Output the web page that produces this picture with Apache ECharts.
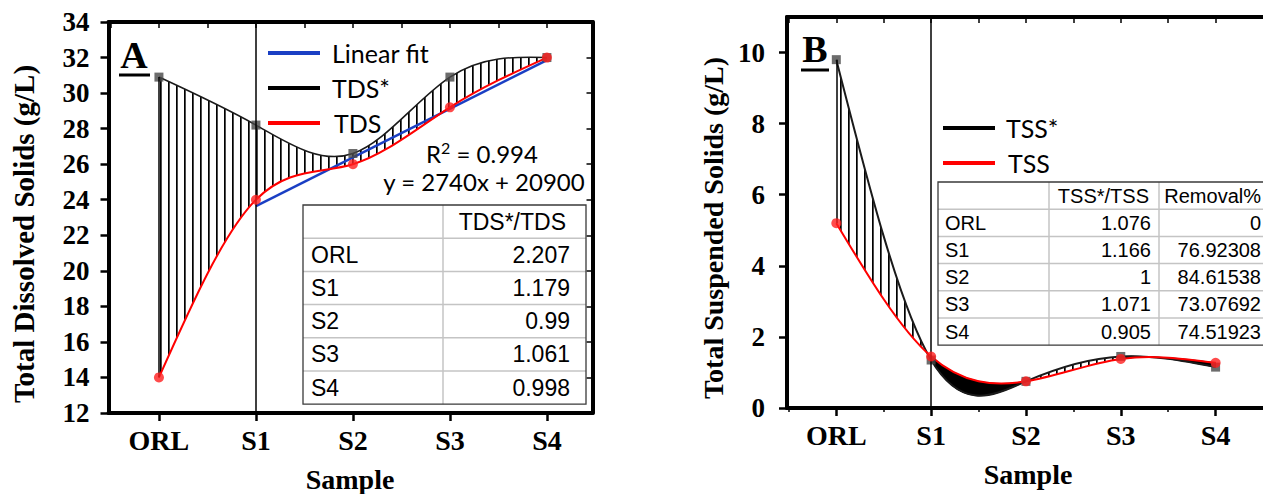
<!DOCTYPE html>
<html>
<head>
<meta charset="utf-8">
<title>TDS and TSS by sample</title>
<script src="https://cdn.jsdelivr.net/npm/echarts@6/dist/echarts.min.js"></script>
<style>
  html, body { margin: 0; padding: 0; background: #fff; }
  #chart { width: 1263px; height: 494px; }
</style>
</head>
<body>
<div id="chart"></div>
<script>
// Sampling points along the x axis (ORL = 0 ... S4 = 4)
const samples = ['ORL', 'S1', 'S2', 'S3', 'S4'];

// Panel A: total dissolved solids (g/L)
const tdsStar = [30.9, 28.2, 26.6, 30.9, 32.0];
const tds = [14.0, 24.0, 26.0, 29.2, 32.0];
// Linear fit y = 2740x + 20900 (mg/L), drawn from S1 to S4
const fitX = [1, 4];
const fitY = [23.64, 31.86];
const tdsTicks = [12, 14, 16, 18, 20, 22, 24, 26, 28, 30, 32, 34];
const tdsRatio = ['2.207', '1.179', '0.99', '1.061', '0.998'];

// Panel B: total suspended solids (g/L)
const tssStar = [9.8, 1.35, 0.75, 1.45, 1.15];
const tss = [5.2, 1.45, 0.75, 1.38, 1.27];
const tssTicks = [0, 2, 4, 6, 8, 10];
const tssRatio = ['1.076', '1.166', '1', '1.071', '0.905'];
const tssRemoval = ['0', '76.92308', '84.61538', '73.07692', '74.51923'];

const SERIF = "'Liberation Serif', 'Times New Roman', serif";
const SANS = "'Liberation Sans', Arial, sans-serif";
const LEGEND_FONT = "Lato, 'Liberation Sans', sans-serif";

const pts = ys => ys.map((y, i) => [i, y]);
const sampleIdx = samples.map((_, i) => i);
const halfTicks = [-0.5, 0, 0.5, 1, 1.5, 2, 2.5, 3, 3.5, 4];
const midTicks = [-0.5, 0.5, 1.5, 2.5, 3.5];

// Natural cubic spline through equally spaced samples, returned as one
// cubic Bezier segment (in data units) per interval.
function splineSegments(ys) {
  const n = ys.length;
  const M = new Array(n).fill(0);
  const cp = [], dp = [];
  for (let i = 1; i < n - 1; i++) {
    const rhs = 6 * (ys[i + 1] - 2 * ys[i] + ys[i - 1]);
    const k = i - 1;
    if (k === 0) { cp[k] = 1 / 4; dp[k] = rhs / 4; }
    else {
      const den = 4 - cp[k - 1];
      cp[k] = 1 / den;
      dp[k] = (rhs - dp[k - 1]) / den;
    }
  }
  for (let k = n - 3; k >= 0; k--) {
    M[k + 1] = dp[k] - (k < n - 3 ? cp[k] * M[k + 2] : 0);
  }
  const segs = [];
  for (let i = 0; i < n - 1; i++) {
    const dy = ys[i + 1] - ys[i];
    const d0 = dy - (2 * M[i] + M[i + 1]) / 6;
    const d1 = dy + (M[i] + 2 * M[i + 1]) / 6;
    segs.push({ y0: ys[i], c0: ys[i] + d0 / 3, c1: ys[i + 1] - d1 / 3, y1: ys[i + 1] });
  }
  return segs;
}
const segMid = s => (s.y0 + 3 * s.c0 + 3 * s.c1 + s.y1) / 8;

// Vertical hatching between the paired curves
function hatchCanvas() {
  const c = document.createElement('canvas');
  c.width = 8; c.height = 8;
  const g = c.getContext('2d');
  g.fillStyle = '#fff'; g.fillRect(0, 0, 8, 8);
  g.fillStyle = '#000'; g.fillRect(0, 0, 1, 8);
  g.fillStyle = 'rgba(0,0,0,0.7)'; g.fillRect(1, 0, 1, 8);
  return c;
}
const hatch = { image: hatchCanvas(), repeat: 'repeat' };

const chart = echarts.init(document.getElementById('chart'), null, { renderer: 'svg' });

function bottomAxis(gridIndex, min, max) {
  return {
    type: 'value', gridIndex, position: 'bottom', min, max, z: 10,
    axisLine: { show: true, onZero: false, lineStyle: { color: '#000', width: 4 } },
    axisTick: { show: true, customValues: sampleIdx, length: 8, inside: false, lineStyle: { color: '#000', width: 2.5 } },
    axisLabel: {
      show: true, customValues: sampleIdx, margin: 13,
      formatter: v => samples[Math.round(v)] || '',
      color: '#000', fontFamily: SERIF, fontWeight: 'bold', fontSize: 28
    },
    splitLine: { show: false }
  };
}
function minorBottomAxis(gridIndex, min, max) {
  return {
    type: 'value', gridIndex, position: 'bottom', min, max, z: 10,
    axisLine: { show: false, onZero: false },
    axisTick: { show: true, customValues: midTicks, length: 4, lineStyle: { color: '#000', width: 1.5 } },
    axisLabel: { show: false },
    splitLine: { show: false }
  };
}
function topAxis(gridIndex, min, max) {
  return {
    type: 'value', gridIndex, position: 'top', min, max, z: 10,
    axisLine: { show: true, onZero: false, lineStyle: { color: '#000', width: 4 } },
    axisTick: { show: true, customValues: halfTicks, inside: true, length: 6, lineStyle: { color: '#000', width: 1.5 } },
    axisLabel: { show: false },
    splitLine: { show: false }
  };
}
function leftAxis(gridIndex, min, max, ticks, margin) {
  return {
    type: 'value', gridIndex, position: 'left', min, max, z: 10,
    axisLine: { show: true, onZero: false, lineStyle: { color: '#000', width: 4 } },
    axisTick: { show: true, customValues: ticks, length: 8, lineStyle: { color: '#000', width: 2.5 } },
    axisLabel: {
      show: true, customValues: ticks, margin,
      color: '#000', fontFamily: SERIF, fontWeight: 'bold', fontSize: 27
    },
    splitLine: { show: false }
  };
}
function rightAxis(gridIndex, min, max, ticks) {
  return {
    type: 'value', gridIndex, position: 'right', min, max, z: 10,
    axisLine: { show: true, onZero: false, lineStyle: { color: '#000', width: 4 } },
    axisTick: { show: true, customValues: ticks, inside: true, length: 6, lineStyle: { color: '#000', width: 1.5 } },
    axisLabel: { show: false },
    splitLine: { show: false }
  };
}

// Region between the starred curve and the plain curve, one piece per interval:
// hatched where the starred curve is above, solid where it dips below.
function betweenFill(xi, yi, upper, lower) {
  const su = splineSegments(upper), sl = splineSegments(lower);
  return {
    type: 'custom', xAxisIndex: xi, yAxisIndex: yi, data: pts(upper), silent: true, clip: true, z: 1,
    renderItem(params, api) {
      const i = params.dataIndex;
      if (i >= su.length) return null;
      const a = su[i], b = sl[i];
      const P = (x, y) => { const p = api.coord([x, y]); return p[0].toFixed(2) + ',' + p[1].toFixed(2); };
      const d = 'M' + P(i, a.y0) + 'C' + P(i + 1 / 3, a.c0) + ' ' + P(i + 2 / 3, a.c1) + ' ' + P(i + 1, a.y1) +
        'L' + P(i + 1, b.y1) + 'C' + P(i + 2 / 3, b.c1) + ' ' + P(i + 1 / 3, b.c0) + ' ' + P(i, b.y0) + 'Z';
      const dips = segMid(a) < segMid(b);
      return {
        type: 'path', shape: { pathData: d },
        style: dips ? { fill: '#000', stroke: '#000', lineWidth: 1 } : { fill: hatch, stroke: 'none' }
      };
    }
  };
}
function splineCurve(xi, yi, ys, color, width) {
  const segs = splineSegments(ys);
  return {
    type: 'custom', xAxisIndex: xi, yAxisIndex: yi, data: pts(ys), silent: true, clip: true, z: 3,
    renderItem(params, api) {
      const i = params.dataIndex;
      if (i >= segs.length) return null;
      const s = segs[i];
      const p0 = api.coord([i, s.y0]), p1 = api.coord([i + 1 / 3, s.c0]);
      const p2 = api.coord([i + 2 / 3, s.c1]), p3 = api.coord([i + 1, s.y1]);
      return {
        type: 'bezierCurve',
        shape: { x1: p0[0], y1: p0[1], cpx1: p1[0], cpy1: p1[1], cpx2: p2[0], cpy2: p2[1], x2: p3[0], y2: p3[1] },
        style: { stroke: color, lineWidth: width, fill: 'none' }
      };
    }
  };
}
function starMarkers(xi, yi, ys, other) {
  return {
    type: 'scatter', xAxisIndex: xi, yAxisIndex: yi, data: pts(ys), symbol: 'rect', symbolSize: 9, z: 4,
    itemStyle: { color: '#474747' },
    markLine: {
      silent: true, symbol: 'none', label: { show: false }, animation: false,
      lineStyle: { color: '#000', width: 1.5, type: 'solid' },
      data: [
        { xAxis: 1 },
        [{ coord: [0, ys[0]] }, { coord: [0, other[0]] }]
      ]
    }
  };
}
function plainMarkers(xi, yi, ys) {
  return {
    type: 'scatter', xAxisIndex: xi, yAxisIndex: yi, data: pts(ys), symbol: 'circle', symbolSize: 10, z: 5,
    itemStyle: { color: '#ff1e1e' }
  };
}

// Ratio tables drawn as graphic elements
function table(cfg) {
  const els = [];
  const nRows = cfg.rows.length + 1;
  const bottom = cfg.top + cfg.rowH * nRows;
  const right = cfg.cols[cfg.cols.length - 1];
  els.push({ type: 'rect', z: 100, shape: { x: cfg.cols[0], y: cfg.top, width: right - cfg.cols[0], height: bottom - cfg.top },
    style: { fill: '#fff', stroke: 'none' } });
  for (let i = 1; i < nRows; i++) {
    const yy = cfg.top + cfg.rowH * i;
    els.push({ type: 'line', z: 101, shape: { x1: cfg.cols[0], y1: yy, x2: right, y2: yy }, style: { stroke: '#c4c4c4', lineWidth: 1.5 } });
  }
  for (let j = 1; j < cfg.cols.length - 1; j++) {
    els.push({ type: 'line', z: 101, shape: { x1: cfg.cols[j], y1: cfg.top, x2: cfg.cols[j], y2: bottom }, style: { stroke: '#c4c4c4', lineWidth: 1.5 } });
  }
  els.push({ type: 'rect', z: 102, shape: { x: cfg.cols[0], y: cfg.top, width: right - cfg.cols[0], height: bottom - cfg.top },
    style: { fill: 'none', stroke: '#3a3a3a', lineWidth: 1.3 } });
  const txt = (text, x, y, align) => ({
    type: 'text', z: 103, x, y,
    style: { text, fill: '#000', font: cfg.fontSize + 'px ' + SANS, textAlign: align, textVerticalAlign: 'middle' }
  });
  cfg.headers.forEach((h, j) => els.push(txt(h, cfg.textX[j + 1] + (cfg.headerShift ? cfg.headerShift[j] : 0), cfg.top + cfg.rowH / 2, 'right')));
  cfg.rows.forEach((r, i) => {
    const yy = cfg.top + cfg.rowH * (i + 1.5);
    els.push(txt(r[0], cfg.textX[0], yy, 'left'));
    for (let j = 1; j < r.length; j++) els.push(txt(r[j], cfg.textX[j], yy, 'right'));
  });
  return els;
}

function legendItem(x1, x2, y, color, label, tx) {
  return [
    { type: 'line', z: 100, shape: { x1, y1: y, x2, y2: y }, style: { stroke: color, lineWidth: 4 } },
    { type: 'text', z: 100, x: tx, y, style: { text: label, fill: '#000', font: '25px ' + LEGEND_FONT, textVerticalAlign: 'middle' } }
  ];
}
function boldText(text, x, y, size, rotation) {
  return {
    type: 'text', z: 100, x, y, rotation: rotation || 0,
    style: { text, fill: '#000', font: 'bold ' + size + 'px ' + SERIF, textAlign: 'center', textVerticalAlign: 'middle' }
  };
}

const tableA = table({
  cols: [303, 443, 586], top: 205, rowH: 33.2, fontSize: 23,
  textX: [311, 570], headers: ['TDS*/TDS'], headerShift: [-4],
  rows: samples.map((s, i) => [s, tdsRatio[i]])
});
const tableB = table({
  cols: [938, 1049, 1159, 1290], top: 182, rowH: 27.2, fontSize: 20,
  textX: [945, 1151, 1261], headers: ['TSS*/TSS', 'Removal%'], headerShift: [-2, 0],
  rows: samples.map((s, i) => [s, tssRatio[i], tssRemoval[i]])
});

const option = {
  backgroundColor: '#fff',
  animation: false,
  grid: [
    { left: 108.5, top: 22, width: 484, height: 391 },
    { left: 787, top: 17, width: 482, height: 391 }
  ],
  xAxis: [
    bottomAxis(0, -0.52, 4.47),
    topAxis(0, -0.52, 4.47),
    bottomAxis(1, -0.52, 4.5),
    minorBottomAxis(1, -0.52, 4.5),
    topAxis(1, -0.52, 4.5)
  ],
  yAxis: [
    leftAxis(0, 12, 34, tdsTicks, 19),
    rightAxis(0, 12, 34, tdsTicks),
    leftAxis(1, 0, 11, tssTicks, 22)
  ],
  series: [
    // Panel A (x axis 0, y axis 0)
    betweenFill(0, 0, tdsStar, tds),
    {
      name: 'Linear fit', type: 'line', xAxisIndex: 0, yAxisIndex: 0,
      data: fitX.map((x, i) => [x, fitY[i]]), showSymbol: false, z: 2,
      lineStyle: { color: '#1a3fc4', width: 2.5 }
    },
    splineCurve(0, 0, tdsStar, '#1a1a1a', 1.6),
    splineCurve(0, 0, tds, '#ff0000', 2),
    starMarkers(0, 0, tdsStar, tds),
    plainMarkers(0, 0, tds),
    // Panel B (x axis 2, y axis 2)
    betweenFill(2, 2, tssStar, tss),
    splineCurve(2, 2, tssStar, '#1a1a1a', 2),
    splineCurve(2, 2, tss, '#ff0000', 2),
    starMarkers(2, 2, tssStar, tss),
    plainMarkers(2, 2, tss)
  ],
  graphic: [
    // Panel letters
    boldText('A', 134, 55, 38),
    { type: 'rect', z: 100, shape: { x: 119, y: 73.5, width: 31, height: 3 }, style: { fill: '#000' } },
    boldText('B', 815, 49, 38),
    { type: 'rect', z: 100, shape: { x: 801, y: 68.5, width: 28, height: 3 }, style: { fill: '#000' } },
    // Axis titles
    boldText('Total Dissolved Solids (g/L)', 24, 234, 29, Math.PI / 2),
    boldText('Sample', 350, 479, 28),
    boldText('Total Suspended Solids (g/L)', 713, 228, 28, Math.PI / 2),
    boldText('Sample', 1028, 474, 28),
    // Legends
    ...legendItem(268, 320, 53, '#1a3fc4', 'Linear fit', 332),
    ...legendItem(268, 320, 88, '#000', 'TDS*', 332),
    ...legendItem(268, 320, 123, '#ff0000', 'TDS', 334),
    ...legendItem(943, 995, 128, '#000', 'TSS*', 1006),
    ...legendItem(943, 995, 163, '#ff0000', 'TSS', 1008),
    // Fit statistics
    {
      type: 'text', z: 100, x: 482, y: 153,
      style: {
        text: '{r|R}{s|2}{r| = 0.994}', textAlign: 'center', textVerticalAlign: 'middle',
        rich: {
          r: { fontFamily: LEGEND_FONT, fontSize: 24, lineHeight: 28, fill: '#000', color: '#000' },
          s: { fontFamily: LEGEND_FONT, fontSize: 16, lineHeight: 16, verticalAlign: 'top', fill: '#000', color: '#000' }
        }
      }
    },
    { type: 'text', z: 100, x: 484, y: 181,
      style: { text: 'y = 2740x + 20900', fill: '#000', font: '24px ' + LEGEND_FONT, textAlign: 'center', textVerticalAlign: 'middle' } },
    ...tableA,
    ...tableB
  ]
};

chart.setOption(option);
</script>
</body>
</html>
